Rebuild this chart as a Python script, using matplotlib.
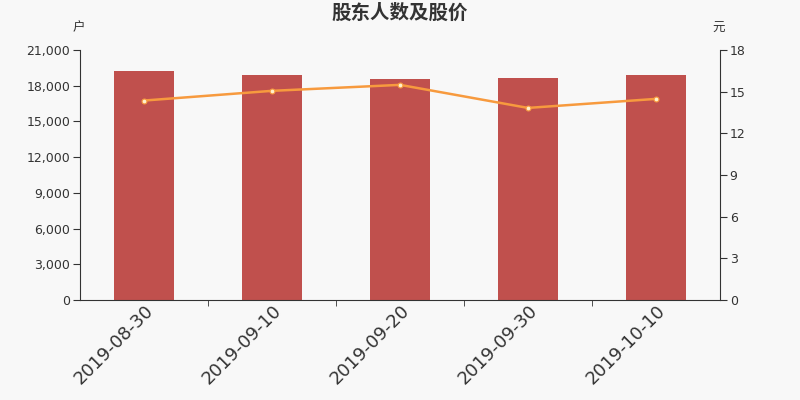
import matplotlib.pyplot as plt
import numpy as np

plt.rcParams['font.family'] = ['DejaVu Sans', 'Noto Sans CJK SC']

dates = ["2019-08-30", "2019-09-10", "2019-09-20", "2019-09-30", "2019-10-10"]
holders = [19200, 18900, 18580, 18660, 18930]  # 户
price = [14.36, 15.06, 15.49, 13.83, 14.48]  # 元

bg = "#f8f8f8"
cjk = ['Noto Sans CJK SC', 'DejaVu Sans']
fig = plt.figure(figsize=(8, 4), dpi=100, facecolor=bg)
ax = fig.add_axes([0.1, 0.25, 0.8, 0.625], facecolor=bg)
x = np.arange(len(dates))
ax.bar(x, holders, width=0.47, color="#c0504d", zorder=2)
ax.set_xlim(-0.5, len(dates) - 0.5)
ax.set_ylim(0, 21000)
ax.set_yticks(np.arange(0, 21001, 3000))
ax.set_yticklabels([f"{v:,}" for v in range(0, 21001, 3000)])
ax.set_xticks(x)
ax.set_xticklabels(dates, rotation=45, ha="right", rotation_mode="anchor", fontsize=13, color="#333333")
ax.set_xticks(x[:-1] + 0.5, minor=True)
ax.tick_params(axis="x", which="major", length=0, pad=1)
ax.tick_params(axis="x", which="minor", length=4, color="#333333")
ax.tick_params(axis="y", labelsize=9, colors="#333333", length=5, pad=2)
for s in ["top", "right"]:
    ax.spines[s].set_visible(False)
for s in ["left", "bottom"]:
    ax.spines[s].set_color("#333333")

ax2 = ax.twinx()
ax2.plot(x, price, color="#f79a3e", lw=1.8, marker="o", ms=3.5, mfc="#fff2cc", mec="#f79a3e", mew=0.8, zorder=3)
ax2.set_ylim(0, 18)
ax2.set_yticks(np.arange(0, 19, 3))
ax2.tick_params(axis="y", labelsize=9, colors="#333333", length=5, pad=2)
for s in ["top", "left", "bottom"]:
    ax2.spines[s].set_visible(False)
ax2.spines["right"].set_color("#333333")

fig.text(0.5, 0.967, "股东人数及股价", ha="center", va="center", fontsize=14, fontweight="bold", color="#333333", family=cjk)
fig.text(0.098, 0.93, "户", ha="center", va="center", fontsize=9, color="#333333", family=cjk)
fig.text(0.898, 0.93, "元", ha="center", va="center", fontsize=9, color="#333333", family=cjk)

fig.savefig("out.png", dpi=100, facecolor=bg)
